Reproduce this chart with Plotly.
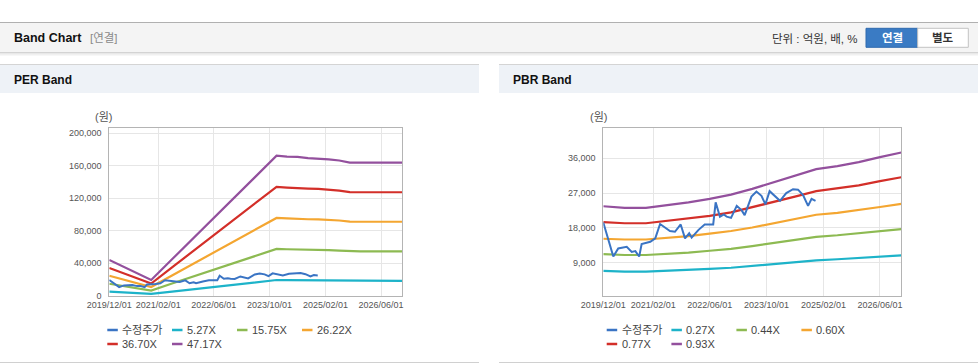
import plotly.graph_objects as go

# ---------------- data ----------------
PER_DATES = ["2019-12-01", "2020-03-01", "2020-06-01", "2020-09-01", "2020-12-01",
             "2021-06-01", "2021-12-01", "2022-06-01", "2022-12-01", "2023-06-01",
             "2023-12-01", "2024-03-01", "2024-06-01", "2024-09-01", "2024-12-01",
             "2025-03-01", "2025-06-01", "2025-09-01", "2025-12-01", "2026-06-01",
             "2026-12-01"]
PER_5_27 = [4900, 4200, 3500, 2800, 2200, 5000, 7900, 10700, 13500, 16400,
            19300, 19100, 19100, 18900, 18900, 18800, 18600, 18300, 18300, 18300, 18300]
PER_15_75 = [14700, 12600, 10600, 8500, 6400, 15000, 23500, 32000, 40500, 49000,
             57600, 57200, 57100, 56600, 56400, 56100, 55600, 54800, 54700, 54700, 54700]
PER_26_22 = [24500, 21000, 17600, 14200, 10700, 24900, 39100, 53300, 67400, 81600,
             95800, 95200, 95100, 94200, 93900, 93400, 92600, 91200, 91100, 91100, 91100]
PER_36_70 = [34200, 29400, 24600, 19800, 15000, 34900, 54700, 74500, 94400, 114200,
             134100, 133200, 133000, 131900, 131500, 130700, 129500, 127600, 127400, 127400, 127400]
PER_47_17 = [44000, 37800, 31600, 25500, 19300, 44800, 70300, 95800, 121300, 146800,
             172400, 171200, 171000, 169500, 169000, 168000, 166500, 164000, 163800, 163800, 163800]

PBR_DATES = ["2019-12-01", "2020-06-01", "2020-12-01", "2021-06-01", "2021-12-01",
             "2022-06-01", "2022-12-01", "2023-06-01", "2023-12-01", "2024-06-01",
             "2024-12-01", "2025-06-01", "2025-12-01", "2026-06-01", "2026-12-01"]
PBR_0_27 = [6900, 6700, 6700, 6900, 7100, 7400, 7700, 8200, 8700, 9100, 9600, 9900, 10200, 10500, 10900]
PBR_0_44 = [11200, 11000, 11000, 11300, 11600, 12100, 12600, 13300, 14100, 14900, 15700, 16100, 16600, 17200, 17700]
PBR_0_60 = [15200, 15000, 15000, 15400, 15900, 16500, 17200, 18100, 19200, 20300, 21400, 21900, 22600, 23400, 24200]
PBR_0_77 = [19500, 19200, 19200, 19800, 20400, 21100, 22000, 23300, 24700, 26100, 27500, 28200, 29000, 30100, 31100]
PBR_0_93 = [23600, 23200, 23200, 23900, 24600, 25500, 26600, 28100, 29800, 31500, 33200, 34000, 35000, 36300, 37500]

PRICE_DATES = ["2019-12-01", "2020-01-13", "2020-02-25", "2020-04-07", "2020-06-19", "2020-08-01",
               "2020-09-01", "2020-10-04", "2020-10-25", "2021-01-07", "2021-02-19", "2021-04-01",
               "2021-06-25", "2021-08-07", "2021-09-25", "2021-11-01", "2021-12-07", "2021-12-28",
               "2022-02-25", "2022-04-19", "2022-07-01", "2022-07-22", "2022-08-28", "2022-10-01",
               "2022-10-25", "2022-12-01", "2023-01-19", "2023-03-01", "2023-03-28", "2023-05-25",
               "2023-07-07", "2023-08-19", "2023-09-22", "2023-10-28", "2023-12-13", "2024-01-25",
               "2024-03-19", "2024-05-16", "2024-06-28", "2024-08-10", "2024-09-22", "2024-10-22",
               "2024-11-25"]
PRICE = [19400, 14900, 10600, 12700, 13100, 11800, 12000, 10600, 13800, 14400, 15300, 19000,
         17200, 17000, 18900, 15300, 16600, 15500, 17500, 18900, 18900, 24600, 20900, 21500,
         20900, 20600, 23700, 22600, 21300, 26100, 27400, 26300, 24100, 27500, 26100, 25000,
         27000, 28000, 27900, 26500, 23700, 25500, 25000]

X_TICKS = ["2019-12-01", "2021-02-01", "2022-06-01", "2023-10-01", "2025-02-01", "2026-06-01"]
X_TICK_LABELS = ["2019/12/01", "2021/02/01", "2022/06/01", "2023/10/01", "2025/02/01", "2026/06/01"]
PER_Y_TICKS = [0, 40000, 80000, 120000, 160000, 200000]
PBR_Y_TICKS = [9000, 18000, 27000, 36000]

PER_NAMES = ["수정주가", "5.27X", "15.75X", "26.22X", "36.70X", "47.17X"]
PBR_NAMES = ["수정주가", "0.27X", "0.44X", "0.60X", "0.77X", "0.93X"]
COLORS = ["#3a74c4", "#1db3c9", "#8dba52", "#f4a631", "#d32f29", "#93509d"]

# ---------------- figure ----------------
W, H = 978, 364
FONT = "Liberation Sans, Arial, 'Noto Sans CJK KR', sans-serif"


def px(x):
    return x / W


def py(y):
    return 1 - y / H


fig = go.Figure()

per_bands = [PER_5_27, PER_15_75, PER_26_22, PER_36_70, PER_47_17]
pbr_bands = [PBR_0_27, PBR_0_44, PBR_0_60, PBR_0_77, PBR_0_93]

for i, vals in enumerate(per_bands):
    fig.add_trace(go.Scatter(x=PER_DATES, y=vals, name=PER_NAMES[i + 1], mode="lines",
                             line=dict(color=COLORS[i + 1], width=2.2), xaxis="x", yaxis="y"))
fig.add_trace(go.Scatter(x=PRICE_DATES, y=PRICE, name=PER_NAMES[0], mode="lines",
                         line=dict(color=COLORS[0], width=2), xaxis="x", yaxis="y"))

for i, vals in enumerate(pbr_bands):
    fig.add_trace(go.Scatter(x=PBR_DATES, y=vals, name=PBR_NAMES[i + 1], mode="lines",
                             line=dict(color=COLORS[i + 1], width=2.2), xaxis="x2", yaxis="y2"))
fig.add_trace(go.Scatter(x=PRICE_DATES, y=PRICE, name=PBR_NAMES[0], mode="lines",
                         line=dict(color=COLORS[0], width=2), xaxis="x2", yaxis="y2"))

axis_common = dict(showgrid=True, gridcolor="#e6e6e6", gridwidth=1, showline=True, mirror=True,
                   linecolor="#b4b4b4", linewidth=1, zeroline=False, ticks="", automargin=False,
                   tickfont=dict(family=FONT, size=9, color="#555555"), fixedrange=True)

xcommon = dict(axis_common, type="date", range=["2019-12-01", "2026-12-01"],
               tickmode="array", tickvals=X_TICKS, ticktext=X_TICK_LABELS, ticklabelstandoff=0)

fig.update_layout(
    width=W, height=H, margin=dict(l=0, r=0, t=0, b=0, pad=0, autoexpand=False), autosize=False,
    paper_bgcolor="white", plot_bgcolor="white", showlegend=False,
    font=dict(family=FONT, color="#333333"),
    xaxis=dict(xcommon, domain=[px(109.3), px(402)], anchor="y"),
    yaxis=dict(axis_common, domain=[py(295.7), py(128.3)], range=[0, 206200], anchor="x",
               tickmode="array", tickvals=PER_Y_TICKS, tickformat=",d", ticklabelstandoff=5),
    xaxis2=dict(xcommon, domain=[px(603.3), px(901.3)], anchor="y2"),
    yaxis2=dict(axis_common, domain=[py(295.7), py(128.3)], range=[470, 43760], anchor="x2",
                tickmode="array", tickvals=PBR_Y_TICKS, tickformat=",d", ticklabelstandoff=5),
)

shapes = []
annos = []


def rect(x0, y0, x1, y1, fill, line=None, lw=0):
    shapes.append(dict(type="rect", xref="paper", yref="paper", x0=px(x0), x1=px(x1),
                       y0=py(y1), y1=py(y0), fillcolor=fill,
                       line=dict(color=line or fill, width=lw), layer="below"))


def hline(x0, x1, y, color, w=1):
    shapes.append(dict(type="line", xref="paper", yref="paper", x0=px(x0), x1=px(x1),
                       y0=py(y), y1=py(y), line=dict(color=color, width=w)))


def text(x, y, s, size=12, color="#333333", bold=False, anchor="left"):
    if bold:
        s = "<b>" + s + "</b>"
    annos.append(dict(x=px(x), y=py(y), xref="paper", yref="paper", text=s, showarrow=False,
                      xanchor=anchor, yanchor="middle",
                      font=dict(family=FONT, size=size, color=color)))


# top header bar
rect(0, 22.5, 978, 52.5, "#f4f4f4")
hline(0, 978, 22.5, "#b0b0b0")
hline(0, 978, 52.8, "#c4c4c4")
hline(0, 978, 54, "#e2e2e2")
hline(0, 978, 55, "#f0f0f0")
text(12, 38.5, "Band Chart", size=12.5, color="#111111", bold=True)
text(88, 38.5, "[연결]", size=11.5, color="#8a8a8a")
text(860, 39, "단위 : 억원, 배, %", size=11.5, color="#333333", anchor="right")
rect(866, 28.3, 917.7, 47.3, "#3a7bc4", line="#2f6aae", lw=1)
rect(917.7, 28.3, 968.3, 47.3, "#ffffff", line="#c2c2c2", lw=1)
text(892, 38, "연결", size=11.5, color="#ffffff", bold=True, anchor="center")
text(943, 38, "별도", size=11.5, color="#333333", bold=True, anchor="center")

# panel headers
rect(0, 64, 479, 93, "#eef2f7")
hline(0, 479, 64.5, "#d4d4d4")
rect(499, 64, 978, 93, "#eef2f7")
hline(499, 978, 64.5, "#d4d4d4")
text(12, 79.5, "PER Band", size=12, color="#111111", bold=True)
text(511, 79.5, "PBR Band", size=12, color="#111111", bold=True)

# bottom borders
hline(0, 479, 362.5, "#d0d0d0")
hline(499, 978, 362.5, "#d0d0d0")

# unit titles
text(103, 117.5, "(원)", size=11, color="#555555", anchor="center")
text(598, 117.5, "(원)", size=11, color="#555555", anchor="center")


def legend(x_base, names):
    cols = [0, 64.7, 129.7, 194.7]
    rows = [330, 344]
    for i, name in enumerate(names):
        r, c = divmod(i, 4)
        x0 = x_base + cols[c]
        y = rows[r]
        hline(x0, x0 + 10.5, y, COLORS[i], w=2.5)
        text(x0 + 13, y, name, size=11, color="#444444")


legend(107.3, PER_NAMES)
legend(606.7, PBR_NAMES)

fig.update_layout(shapes=shapes, annotations=annos)
fig.write_html("out.html", config={"displayModeBar": False},
               post_script="document.body.style.margin='0';")
